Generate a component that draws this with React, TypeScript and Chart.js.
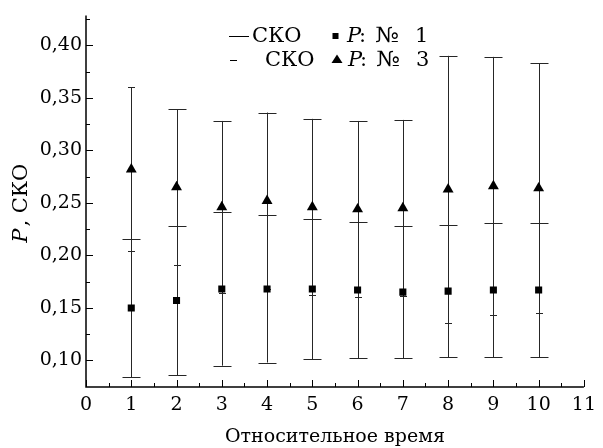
import React, { useEffect, useRef } from "react";
import { Chart, registerables } from "chart.js";

Chart.register(...registerables);

// ---- data ----
const times = [1, 2, 3, 4, 5, 6, 7, 8, 9, 10];
const pNo1 = [0.150, 0.157, 0.168, 0.168, 0.168, 0.167, 0.165, 0.166, 0.167, 0.167];
const skoNo1 = [0.066, 0.071, 0.073, 0.070, 0.067, 0.065, 0.063, 0.063, 0.064, 0.064];
const pNo3 = [0.282, 0.265, 0.246, 0.252, 0.246, 0.244, 0.245, 0.263, 0.266, 0.264];
const skoNo3 = [0.078, 0.074, 0.082, 0.084, 0.084, 0.084, 0.084, 0.127, 0.123, 0.119];
const yTickValues = [0.10, 0.15, 0.20, 0.25, 0.30, 0.35, 0.40];
const yMinorValues = [0.125, 0.175, 0.225, 0.275, 0.325, 0.375, 0.425];
const xTickValues = [0, 1, 2, 3, 4, 5, 6, 7, 8, 9, 10, 11];
const xMinorValues = [0.5, 1.5, 2.5, 3.5, 4.5, 5.5, 6.5, 7.5, 8.5, 9.5, 10.5];
const xTitle = "Относительное время";
const yTitleItalic = "P";
const yTitleRest = ", СКО";
const legendSko = "СКО";
const legendNums = ["1", "3"];

const FAMILY = '"DejaVu Serif", "Liberation Serif", serif';
const FS = 19;
const LFS = 21;

const series = [
  { values: pNo1, sko: skoNo1, topCap: 9, bottomCap: 9 },
  { values: pNo3, sko: skoNo3, topCap: 9, bottomCap: 3.5 },
];

const errorBarPlugin = {
  id: "errorBars",
  beforeDatasetsDraw(chart: any) {
    const { ctx } = chart;
    const x = chart.scales.x;
    const y = chart.scales.y;
    ctx.save();
    ctx.strokeStyle = "#262626";
    ctx.lineWidth = 1;
    const cap = (px: number, py: number, half: number) => {
      const yy = Math.round(py) + 0.5;
      ctx.beginPath();
      ctx.moveTo(px - half, yy);
      ctx.lineTo(px + half, yy);
      ctx.stroke();
    };
    series.forEach((s, si) => {
      times.forEach((t, i) => {
        const px = Math.round(x.getPixelForValue(t)) + 0.5;
        const yt = y.getPixelForValue(s.values[i] + s.sko[i]);
        const yb = y.getPixelForValue(s.values[i] - s.sko[i]);
        ctx.beginPath();
        ctx.moveTo(px, yt);
        ctx.lineTo(px, yb);
        ctx.stroke();
        cap(px, yt, si === 1 && i === 0 ? 3.5 : s.topCap);
        cap(px, yb, s.bottomCap);
      });
    });
    ctx.restore();
  },
};

const decorPlugin = {
  id: "decor",
  afterDraw(chart: any) {
    const { ctx, chartArea } = chart;
    const x = chart.scales.x;
    const y = chart.scales.y;
    const { left, right, top, bottom } = chartArea;
    ctx.save();
    ctx.strokeStyle = "#000";
    ctx.lineWidth = 1.5;
    ctx.beginPath();
    ctx.moveTo(left, top);
    ctx.lineTo(left, bottom);
    ctx.lineTo(right, bottom);
    ctx.stroke();
    ctx.lineWidth = 1;
    const yt = (v: number, len: number) => {
      const py = Math.round(y.getPixelForValue(v)) + 0.5;
      ctx.beginPath();
      ctx.moveTo(left, py);
      ctx.lineTo(left + len, py);
      ctx.stroke();
    };
    yTickValues.forEach((v) => yt(v, 7));
    yMinorValues.forEach((v) => yt(v, 4));
    const xt = (v: number, len: number) => {
      const px = Math.round(x.getPixelForValue(v)) + 0.5;
      ctx.beginPath();
      ctx.moveTo(px, bottom);
      ctx.lineTo(px, bottom - len);
      ctx.stroke();
    };
    xTickValues.forEach((v) => xt(v, 7));
    xMinorValues.forEach((v) => xt(v, 4));

    // y title
    ctx.fillStyle = "#000";
    ctx.textBaseline = "middle";
    const italicL = `italic ${LFS}px ${FAMILY}`;
    const normalL = `${LFS}px ${FAMILY}`;
    ctx.font = italicL;
    const wP = ctx.measureText(yTitleItalic).width;
    ctx.font = normalL;
    const wR = ctx.measureText(yTitleRest).width;
    const total = wP + wR + 2;
    ctx.save();
    ctx.translate(22, (top + bottom) / 2 + 2);
    ctx.rotate(-Math.PI / 2);
    ctx.textAlign = "left";
    ctx.font = italicL;
    ctx.fillText(yTitleItalic, -total / 2, 0);
    ctx.font = normalL;
    ctx.fillText(yTitleRest, -total / 2 + wP + 2, 0);
    ctx.restore();

    // legend
    const rows = [
      { y: 36, lineFrom: 229, lineTo: 249, textX: 252, marker: "square", pX: 347 },
      { y: 59.5, lineFrom: 230, lineTo: 237, textX: 265, marker: "triangle", pX: 348 },
    ];
    rows.forEach((r, ri) => {
      ctx.lineWidth = 1;
      ctx.beginPath();
      ctx.moveTo(r.lineFrom, Math.round(r.y) + 0.5);
      ctx.lineTo(r.lineTo, Math.round(r.y) + 0.5);
      ctx.stroke();
      ctx.font = normalL;
      ctx.textAlign = "left";
      ctx.fillText(legendSko, r.textX, r.y + 1);
      if (r.marker === "square") {
        ctx.fillRect(332.5, r.y - 3, 6, 6);
      } else {
        ctx.beginPath();
        ctx.moveTo(337, r.y - 5);
        ctx.lineTo(342.5, r.y + 3.5);
        ctx.lineTo(331.5, r.y + 3.5);
        ctx.closePath();
        ctx.fill();
      }
      ctx.font = italicL;
      ctx.fillText("P", r.pX, r.y + 1);
      ctx.font = normalL;
      ctx.fillText(":", r.pX + 12, r.y + 1);
      // wide numero sign, as in the source typeface
      const wN = ctx.measureText("№").width;
      ctx.save();
      ctx.translate(r.pX + 28, r.y + 1);
      ctx.scale(24 / wN, 1);
      ctx.fillText("№", 0, 0);
      ctx.restore();
      ctx.fillText(legendNums[ri], r.pX + 68, r.y + 1);
    });
    ctx.restore();
  },
};

export default function App() {
  const ref = useRef<HTMLCanvasElement | null>(null);
  useEffect(() => {
    document.body.style.margin = "0";
    if (!ref.current) return;
    const font = { family: FAMILY, size: FS };
    const chart = new Chart(ref.current, {
      type: "scatter",
      data: {
        datasets: [
          {
            label: "P: № 1",
            data: times.map((t, i) => ({ x: t, y: pNo1[i] })),
            pointStyle: "rect",
            pointRadius: 5,
            backgroundColor: "#000",
            borderColor: "#000",
            borderWidth: 0,
          },
          {
            label: "P: № 3",
            data: times.map((t, i) => ({ x: t, y: pNo3[i] })),
            pointStyle: "triangle",
            pointRadius: 6.3,
            backgroundColor: "#000",
            borderColor: "#000",
            borderWidth: 0,
          },
        ],
      },
      options: {
        animation: false,
        responsive: true,
        maintainAspectRatio: false,
        layout: { padding: { top: 15, right: 14, left: 0, bottom: 0 } },
        plugins: { legend: { display: false }, tooltip: { enabled: false } },
        scales: {
          x: {
            type: "linear",
            min: 0,
            max: 11,
            grid: { display: false, drawTicks: false },
            border: { display: false },
            afterBuildTicks: (s: any) => {
              s.ticks = xTickValues.map((v) => ({ value: v }));
            },
            afterFit: (s: any) => {
              s.height = 61;
            },
            ticks: {
              font,
              color: "#000",
              padding: 7,
              maxRotation: 0,
              autoSkip: false,
              callback: (v: any) => String(v),
            },
            title: {
              display: true,
              text: xTitle,
              font,
              color: "#000",
              padding: { top: 0, bottom: 0 },
            },
          },
          y: {
            type: "linear",
            min: 0.0747,
            max: 0.4285,
            grid: { display: false, drawTicks: false },
            border: { display: false },
            afterBuildTicks: (s: any) => {
              s.ticks = yTickValues.map((v) => ({ value: v }));
            },
            afterFit: (s: any) => {
              s.width = 86;
            },
            ticks: {
              font,
              color: "#000",
              padding: 4,
              autoSkip: false,
              callback: (v: any) => Number(v).toFixed(2).replace(".", ","),
            },
          },
        },
      },
      plugins: [errorBarPlugin, decorPlugin],
    });
    return () => chart.destroy();
  }, []);
  return (
    <div style={{ width: 603, height: 448, position: "relative", background: "#fff" }}>
      <canvas ref={ref} />
    </div>
  );
}
